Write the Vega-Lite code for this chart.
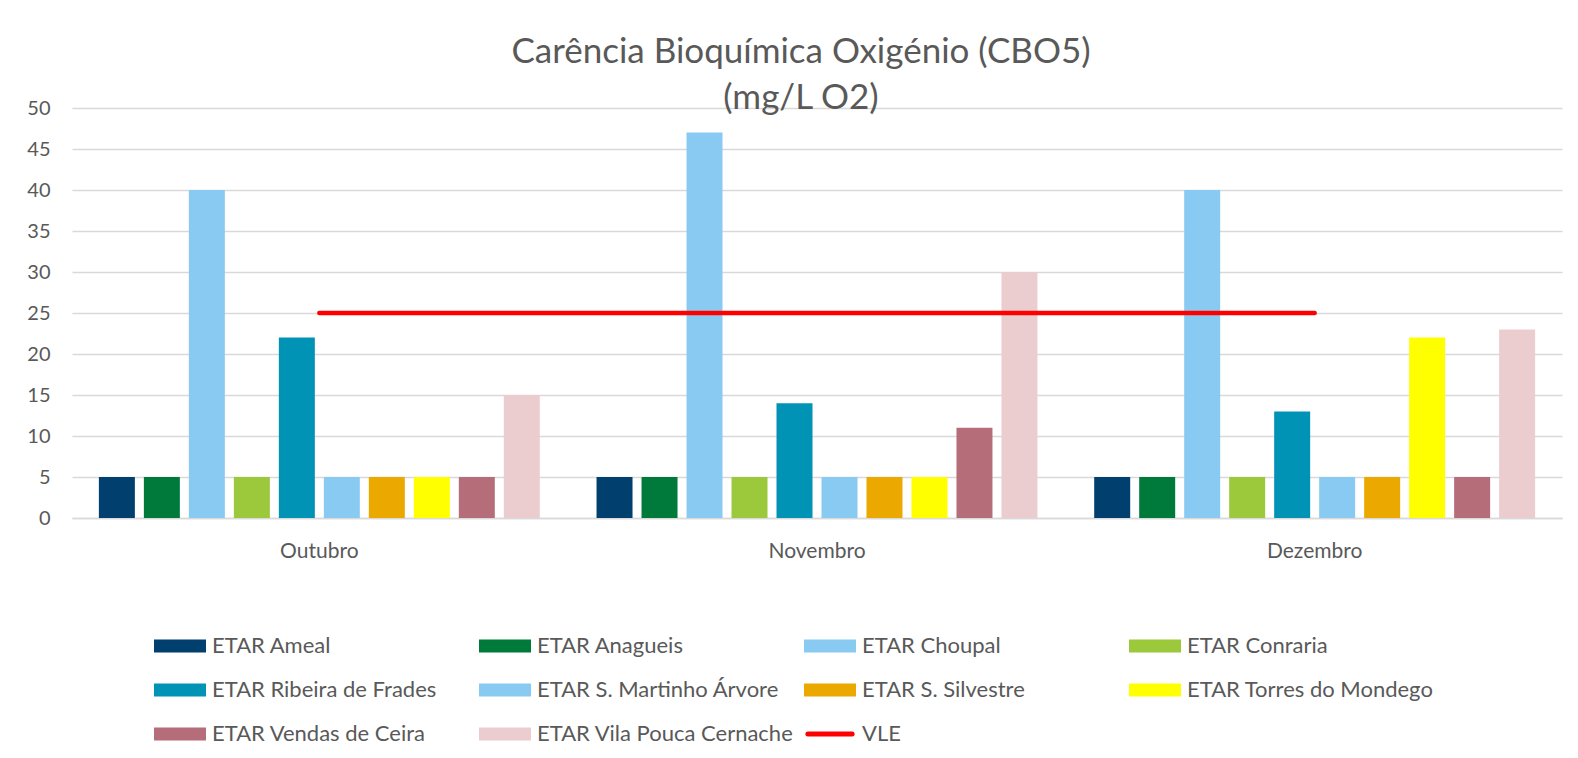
{
  "$schema": "https://vega.github.io/schema/vega-lite/v6.json",
  "width": 1490,
  "height": 410,
  "autosize": {"type": "none"},
  "padding": {"left": 72, "top": 108, "right": 16, "bottom": 240},
  "background": "white",
  "config": {
    "font": "Lato",
    "view": {"stroke": null},
    "axis": {"labelColor": "#595959", "labelFont": "Lato", "labelFontSize": 20, "title": null}
  },
  "title": {
    "text": ["Carência Bioquímica Oxigénio (CBO5)", "(mg/L O2)"],
    "font": "Lato",
    "fontSize": 35,
    "fontWeight": "normal",
    "color": "#595959",
    "anchor": "middle",
    "dx": -16,
    "offset": -18,
    "lineHeight": 46
  },
  "datasets": {
    "bars": [
      {"month": "Outubro", "series": "ETAR Ameal", "value": 5},
      {"month": "Outubro", "series": "ETAR Anagueis", "value": 5},
      {"month": "Outubro", "series": "ETAR Choupal", "value": 40},
      {"month": "Outubro", "series": "ETAR Conraria", "value": 5},
      {"month": "Outubro", "series": "ETAR Ribeira de Frades", "value": 22},
      {"month": "Outubro", "series": "ETAR S. Martinho Árvore", "value": 5},
      {"month": "Outubro", "series": "ETAR S. Silvestre", "value": 5},
      {"month": "Outubro", "series": "ETAR Torres do Mondego", "value": 5},
      {"month": "Outubro", "series": "ETAR Vendas de Ceira", "value": 5},
      {"month": "Outubro", "series": "ETAR Vila Pouca Cernache", "value": 15},
      {"month": "Novembro", "series": "ETAR Ameal", "value": 5},
      {"month": "Novembro", "series": "ETAR Anagueis", "value": 5},
      {"month": "Novembro", "series": "ETAR Choupal", "value": 47},
      {"month": "Novembro", "series": "ETAR Conraria", "value": 5},
      {"month": "Novembro", "series": "ETAR Ribeira de Frades", "value": 14},
      {"month": "Novembro", "series": "ETAR S. Martinho Árvore", "value": 5},
      {"month": "Novembro", "series": "ETAR S. Silvestre", "value": 5},
      {"month": "Novembro", "series": "ETAR Torres do Mondego", "value": 5},
      {"month": "Novembro", "series": "ETAR Vendas de Ceira", "value": 11},
      {"month": "Novembro", "series": "ETAR Vila Pouca Cernache", "value": 30},
      {"month": "Dezembro", "series": "ETAR Ameal", "value": 5},
      {"month": "Dezembro", "series": "ETAR Anagueis", "value": 5},
      {"month": "Dezembro", "series": "ETAR Choupal", "value": 40},
      {"month": "Dezembro", "series": "ETAR Conraria", "value": 5},
      {"month": "Dezembro", "series": "ETAR Ribeira de Frades", "value": 13},
      {"month": "Dezembro", "series": "ETAR S. Martinho Árvore", "value": 5},
      {"month": "Dezembro", "series": "ETAR S. Silvestre", "value": 5},
      {"month": "Dezembro", "series": "ETAR Torres do Mondego", "value": 22},
      {"month": "Dezembro", "series": "ETAR Vendas de Ceira", "value": 5},
      {"month": "Dezembro", "series": "ETAR Vila Pouca Cernache", "value": 23}
    ],
    "vle": [
      {"month": "Outubro", "series": "VLE", "value": 25},
      {"month": "Novembro", "series": "VLE", "value": 25},
      {"month": "Dezembro", "series": "VLE", "value": 25}
    ]
  },
  "encoding": {
    "x": {
      "field": "month",
      "type": "nominal",
      "sort": ["Outubro", "Novembro", "Dezembro"],
      "scale": {"paddingInner": 0.114, "paddingOuter": 0.054},
      "axis": {
        "labelAngle": 0,
        "labelFontSize": 21,
        "labelPadding": 22,
        "ticks": false,
        "domainColor": "#D9D9D9",
        "domainWidth": 1.5,
        "grid": false
      }
    },
    "y": {
      "field": "value",
      "type": "quantitative",
      "scale": {"domain": [0, 50], "nice": false},
      "axis": {
        "values": [0, 5, 10, 15, 20, 25, 30, 35, 40, 45, 50],
        "domain": false,
        "ticks": false,
        "labelPadding": 22,
        "labelFontSize": 20,
        "gridColor": "#D9D9D9",
        "gridWidth": 1.5
      }
    },
    "color": {
      "field": "series",
      "type": "nominal",
      "scale": {
        "domain": ["ETAR Ameal", "ETAR Anagueis", "ETAR Choupal", "ETAR Conraria", "ETAR Ribeira de Frades", "ETAR S. Martinho Árvore", "ETAR S. Silvestre", "ETAR Torres do Mondego", "ETAR Vendas de Ceira", "ETAR Vila Pouca Cernache", "VLE"],
        "range": ["#003F6E", "#007A3A", "#89CAF2", "#9CC83C", "#0093B5", "#89CAF2", "#EBA900", "#FFFF00", "#B56D7A", "#EBCDD0", "#FF0000"]
      },
      "legend": {
        "title": null,
        "orient": "none",
        "legendX": 97,
        "legendY": 527,
        "direction": "horizontal",
        "columns": 4,
        "gridAlign": "all",
        "columnPadding": 3,
        "rowPadding": 22,
        "padding": 0,
        "labelFont": "Lato",
        "labelFontSize": 22,
        "labelColor": "#595959",
        "labelOffset": 21,
        "labelLimit": 400,
        "symbolSize": 2704,
        "symbolType": "M-1,-0.25H1V0.25H-1Z",
        "encode": {
          "symbols": {
            "update": {
              "shape": {"signal": "datum.value === 'VLE' ? 'M-0.85,0H0.85' : 'M-1,-0.25H1V0.25H-1Z'"},
              "fill": {"signal": "datum.value === 'VLE' ? 'transparent' : scale('color', datum.value)"},
              "stroke": {"signal": "datum.value === 'VLE' ? '#FF0000' : 'transparent'"},
              "strokeWidth": {"signal": "datum.value === 'VLE' ? 5 : 0"},
              "strokeCap": {"value": "round"},
              "opacity": {"value": 1}
            }
          }
        }
      }
    }
  },
  "layer": [
    {
      "data": {"name": "bars"},
      "mark": {"type": "bar"},
      "encoding": {
        "xOffset": {
          "field": "series",
          "type": "nominal",
          "sort": ["ETAR Ameal", "ETAR Anagueis", "ETAR Choupal", "ETAR Conraria", "ETAR Ribeira de Frades", "ETAR S. Martinho Árvore", "ETAR S. Silvestre", "ETAR Torres do Mondego", "ETAR Vendas de Ceira", "ETAR Vila Pouca Cernache"],
          "scale": {"paddingInner": 0.2, "paddingOuter": 0}
        }
      }
    },
    {
      "data": {"name": "vle"},
      "mark": {"type": "line", "strokeWidth": 4.5, "strokeCap": "round"},
      "encoding": {}
    }
  ]
}
